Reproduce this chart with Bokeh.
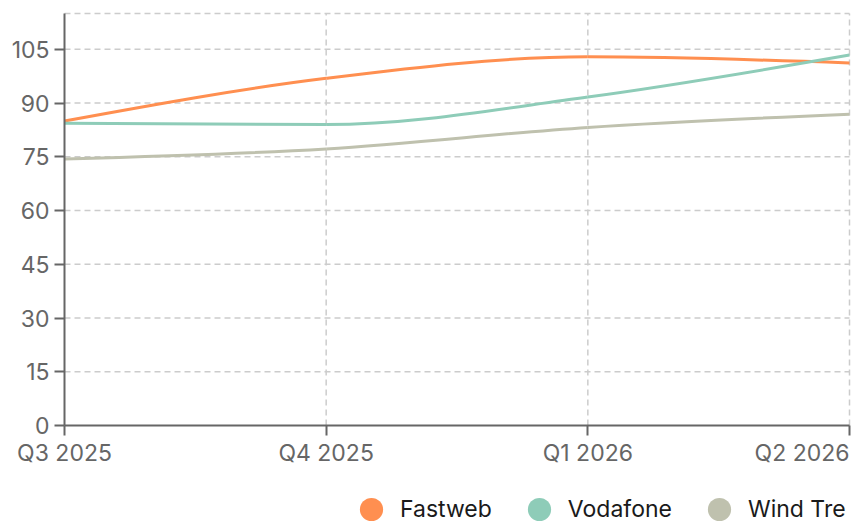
from bokeh.plotting import figure
from bokeh.models import (ColumnDataSource, FixedTicker, Range1d, Legend, LegendItem, Label,
                          LinearAxis)
from bokeh.embed import file_html
from bokeh.resources import INLINE

# ---- data ----
quarters = ["Q3 2025", "Q4 2025", "Q1 2026", "Q2 2026"]
fastweb = [85.0, 96.9, 102.9, 101.2]
vodafone = [84.4, 84.0, 91.7, 103.4]
wind_tre = [74.4, 77.2, 83.2, 86.9]
series_names = ["Fastweb", "Vodafone", "Wind Tre"]
series_colors = ["#FF8F50", "#8ECCB8", "#BFC1AE"]
y_ticks = [0, 15, 30, 45, 60, 75, 90, 105]
y_max = 115

FONT = "Inter"
FONT_SIZE = "23px"
AXIS_COLOR = "#666666"
GRID_COLOR = "#cccccc"

# ---- layout (pixels) ----
W, H = 866, 522
PLOT_L, PLOT_R, PLOT_T, PLOT_B = 64, 849, 13, 425


def monotone_beziers(xs, ys):
    """Control points of a monotone-x cubic curve through the points."""
    n = len(xs)
    t = [0.0] * n

    def sign(v):
        return (v > 0) - (v < 0)

    for i in range(1, n - 1):
        h0 = xs[i] - xs[i - 1]
        h1 = xs[i + 1] - xs[i]
        s0 = (ys[i] - ys[i - 1]) / h0
        s1 = (ys[i + 1] - ys[i]) / h1
        p_ = (s0 * h1 + s1 * h0) / (h0 + h1)
        t[i] = (sign(s0) + sign(s1)) * min(abs(s0), abs(s1), 0.5 * abs(p_))
    h = xs[1] - xs[0]
    t[0] = (3 * (ys[1] - ys[0]) / h - t[1]) / 2
    h = xs[-1] - xs[-2]
    t[-1] = (3 * (ys[-1] - ys[-2]) / h - t[-2]) / 2
    out = dict(x0=[], y0=[], x1=[], y1=[], cx0=[], cy0=[], cx1=[], cy1=[])
    for i in range(n - 1):
        dx = (xs[i + 1] - xs[i]) / 3
        out["x0"].append(xs[i]); out["y0"].append(ys[i])
        out["x1"].append(xs[i + 1]); out["y1"].append(ys[i + 1])
        out["cx0"].append(xs[i] + dx); out["cy0"].append(ys[i] + dx * t[i])
        out["cx1"].append(xs[i + 1] - dx); out["cy1"].append(ys[i + 1] - dx * t[i + 1])
    return out


xpos = list(range(len(quarters)))
x_last = xpos[-1]

# data ranges chosen so that the plotting area sits at PLOT_* pixels while the
# frame covers the whole canvas (so nothing gets clipped)
ppx = (PLOT_R - PLOT_L) / x_last
ppy = (PLOT_B - PLOT_T) / y_max
x_range = Range1d(-PLOT_L / ppx, x_last + (W - PLOT_R) / ppx)
y_range = Range1d(-(H - PLOT_B) / ppy, y_max + PLOT_T / ppy)

p = figure(width=W, height=H, output_backend="svg", toolbar_location=None,
           x_range=x_range, y_range=y_range, x_axis_type=None, y_axis_type=None,
           min_border=0, min_border_left=0, min_border_right=0,
           min_border_top=0, min_border_bottom=0)
p.outline_line_color = None
p.grid.visible = False
p.background_fill_color = "white"
p.border_fill_color = "white"

# grid lines (dashed) incl. the top edge of the plotting area
h_levels = [v for v in y_ticks if v > 0] + [y_max]
p.segment(x0=[0] * len(h_levels), x1=[x_last] * len(h_levels), y0=h_levels, y1=h_levels,
          line_color=GRID_COLOR, line_dash="6 4", line_width=1.5, level="underlay")
v_levels = xpos[1:]
p.segment(x0=v_levels, x1=v_levels, y0=[0] * len(v_levels), y1=[y_max] * len(v_levels),
          line_color=GRID_COLOR, line_dash="6 4", line_width=1.5, level="underlay")

# axes fixed at the data origin
xaxis = LinearAxis(fixed_location=0, bounds=(0, x_last), ticker=FixedTicker(ticks=xpos))
overrides = {i: q for i, q in enumerate(quarters)}
overrides[x_last] = ""
xaxis.major_label_overrides = overrides
yaxis = LinearAxis(fixed_location=0, bounds=(0, y_max), ticker=FixedTicker(ticks=y_ticks))
for ax in (xaxis, yaxis):
    ax.axis_line_color = AXIS_COLOR
    ax.axis_line_width = 2
    ax.major_tick_line_color = AXIS_COLOR
    ax.major_tick_line_width = 2
    ax.major_tick_out = 10
    ax.major_tick_in = 0
    ax.minor_tick_line_color = None
    ax.major_label_text_color = AXIS_COLOR
    ax.major_label_text_font = FONT
    ax.major_label_text_font_size = FONT_SIZE
xaxis.major_label_standoff = 3
yaxis.major_label_standoff = 5
p.add_layout(xaxis, "below")
p.add_layout(yaxis, "left")

# last x label, right-aligned to the edge of the plotting area
p.add_layout(Label(x=x_last, y=0, text=quarters[-1], text_align="right",
                   text_baseline="top", y_offset=-13, text_font=FONT,
                   text_font_size=FONT_SIZE, text_color=AXIS_COLOR))

# lines
items = []
for name, vals, col in zip(series_names, [fastweb, vodafone, wind_tre], series_colors):
    src = ColumnDataSource(monotone_beziers(xpos, vals))
    p.bezier(x0="x0", y0="y0", x1="x1", y1="y1", cx0="cx0", cy0="cy0",
             cx1="cx1", cy1="cy1", source=src, line_color=col, line_width=3)
    # zero-size markers: only used to draw the round legend swatch
    swatch = p.scatter(x=xpos, y=vals, size=0, marker="circle", fill_color=col,
                       line_color=col, line_width=0)
    items.append(LegendItem(label=name, renderers=[swatch]))

legend = Legend(items=items, orientation="horizontal", location=(342, -17),
                glyph_width=58, glyph_height=60, label_standoff=0, spacing=18,
                padding=0, margin=0, border_line_color=None, background_fill_alpha=0,
                label_text_font=FONT, label_text_font_size=FONT_SIZE,
                label_text_color="#1a1a1a")
p.add_layout(legend, "center")

open("out.html", "w").write(file_html(p, INLINE))
